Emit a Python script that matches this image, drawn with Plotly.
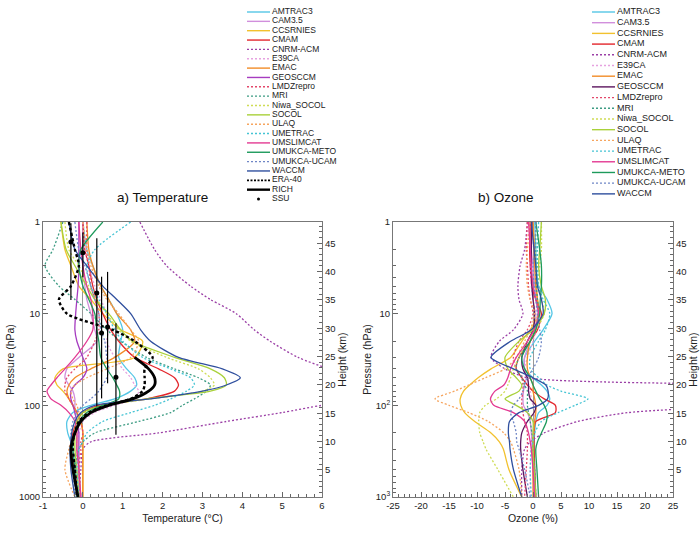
"""Temperature and ozone profile differences: models vs observations.

Two panels (a: temperature, b: ozone) on a log pressure axis with a
height axis on the right, each with its own compact legend on top.
"""
from typing import List, Optional
import plotly.graph_objects as go

# Pressure levels (hPa) on which every profile is given
PRESSURE = [1, 2, 3, 5, 7, 10, 15, 20, 30, 40, 50, 60, 70, 85, 100, 120, 150, 200,
            250, 300, 500, 1000]

MODELS = ['AMTRAC3', 'CAM3.5', 'CCSRNIES', 'CMAM', 'CNRM-ACM', 'E39CA', 'EMAC', 'GEOSCCM',
          'LMDZrepro', 'MRI', 'Niwa_SOCOL', 'SOCOL', 'ULAQ', 'UMETRAC', 'UMSLIMCAT',
          'UMUKCA-METO', 'UMUKCA-UCAM', 'WACCM']
DOTTED = ['CNRM-ACM', 'E39CA', 'LMDZrepro', 'MRI', 'Niwa_SOCOL', 'ULAQ', 'UMETRAC',
          'UMUKCA-UCAM']

COLORS_A = ['#55c6e6', '#d18fdc', '#f2c12e', '#e3262c', '#9b3fa6', '#e6a2e0', '#f28c28',
            '#a63cc0', '#e3486a', '#3d9c83', '#cfdc55', '#a9d13a', '#f6a55f', '#45c4d4',
            '#e33a93', '#1d9a5b', '#6f86c6', '#2f4f9e']
COLORS_B = ['#55c6e6', '#d18fdc', '#f2c12e', '#e3262c', '#9b3fa6', '#e6a2e0', '#f28c28',
            '#5c165e', '#e3486a', '#3d9c83', '#cfdc55', '#a9d13a', '#f6a55f', '#45c4d4',
            '#e33a93', '#1d9a5b', '#6f86c6', '#2f4f9e']

# a) Temperature difference (deg C) per model, one value per PRESSURE level
TEMP = {
    'AMTRAC3': [0.0, 0.1, 0.25, 0.45, 0.65, 0.85, 1.0, 0.95, 0.9, 1.1, 1.3, 1.35, 1.2, 0.8,
                0.2, -0.25, -0.4, -0.38, -0.3, -0.25, -0.2, -0.15],
    'CAM3.5': [0.0, 0.0, 0.0, 0.05, 0.1, 0.2, 0.3, 0.35, -0.1, -0.4, -0.45, -0.35, -0.25,
               -0.2, -0.2, -0.2, -0.15, -0.15, -0.15, -0.15, -0.1, -0.1],
    'CCSRNIES': [-0.55, -0.45, -0.3, -0.1, 0.2, 0.5, 0.95, 1.5, 1.3, -0.5, -0.7, -0.65,
                 -0.5, -0.35, -0.25, -0.15, -0.05, 0.0, 0.0, 0.0, 0.0, 0.0],
    'CMAM': [0.0, 0.05, 0.15, 0.25, 0.35, 0.5, 0.7, 0.9, 1.3, 1.9, 2.3, 2.4, 2.3, 1.6, 0.4,
             0.0, -0.15, -0.25, -0.3, -0.3, -0.2, -0.1],
    'CNRM-ACM': [1.43, 1.8, 2.1, 2.7, 3.2, 3.85, 4.3, 4.7, 5.4, 6.2, 7.5, 8.5, 8.5, 7.5, 6.0,
                 5.0, 3.6, 1.9, 0.2, 0.0, -0.05, -0.1],
    'E39CA': [0.0, 0.05, 0.15, 0.3, 0.45, 0.6, 0.65, 0.6, 0.8, 1.0, 1.2, 1.3, 1.4, 1.3, 0.8,
              0.3, 0.0, -0.1, -0.15, -0.15, -0.15, -0.1],
    'EMAC': [0.1, 0.15, 0.25, 0.45, 0.65, 0.85, 1.2, 1.3, 0.8, 0.2, -0.2, -0.35, -0.4,
             -0.35, -0.25, -0.15, -0.05, 0.0, 0.0, 0.0, 0.0, 0.0],
    'GEOSCCM': [-0.1, -0.1, -0.1, -0.12, -0.15, -0.18, -0.2, -0.15, 0.0, 0.1, 0.0, -0.2,
                -0.3, -0.3, -0.25, -0.2, -0.15, -0.1, -0.1, -0.1, -0.1, -0.05],
    'LMDZrepro': [0.1, 0.1, 0.15, 0.2, 0.3, 0.4, 0.4, 0.3, 0.1, -0.2, -0.4, -0.45, -0.45,
                  -0.35, -0.25, -0.15, -0.05, 0.0, -0.05, -0.05, -0.1, -0.05],
    'MRI': [-0.5, -0.75, -0.95, -0.6, -0.2, 0.2, 0.6, 0.95, 1.6, 2.3, 2.9, 3.2, 3.1, 2.8, 2.5,
            2.2, 1.4, 0.3, 0.0, -0.1, -0.2, -0.15],
    'Niwa_SOCOL': [-0.45, -0.35, -0.1, 0.15, 0.35, 0.6, 0.9, 1.2, 2.1, 2.9, 3.2, 3.3, 3.0,
                   1.7, 0.6, 0.05, -0.1, -0.15, -0.15, -0.15, -0.1, -0.05],
    'SOCOL': [-0.55, -0.42, -0.2, 0.1, 0.3, 0.65, 0.95, 1.25, 2.3, 3.2, 3.55, 3.6, 3.2, 1.6,
              0.5, 0.0, -0.15, -0.2, -0.2, -0.2, -0.15, -0.1],
    'ULAQ': [0.0, 0.1, 0.2, 0.4, 0.6, 0.9, 1.2, 1.4, 1.2, 0.6, 0.1, -0.2, -0.3, -0.25, -0.15,
             -0.1, -0.1, -0.2, -0.3, -0.35, -0.45, -0.2],
    'UMETRAC': [1.2, 0.3, 0.1, 0.2, 0.4, 0.6, 0.8, 1.0, 1.5, 2.2, 2.7, 2.8, 2.6, 2.2, 1.8,
                1.2, 0.5, 0.1, 0.0, -0.1, -0.15, -0.1],
    'UMSLIMCAT': [-0.1, -0.05, 0.0, 0.1, 0.2, 0.25, 0.25, 0.1, -0.2, -0.45, -0.65, -0.8, -0.9,
                  -0.8, -0.55, -0.35, -0.2, -0.15, -0.15, -0.15, -0.1, -0.05],
    'UMUKCA-METO': [0.5, -0.05, -0.1, 0.0, 0.15, 0.3, 0.35, 0.4, 0.45, 0.6, 0.75, 0.85, 0.92,
                    0.9, 0.5, 0.1, -0.1, -0.2, -0.25, -0.25, -0.2, -0.15],
    'UMUKCA-UCAM': [-0.2, -0.1, 0.05, 0.2, 0.3, 0.4, 0.45, 0.55, 0.6, 0.65, 0.6, 0.5, 0.4,
                    0.2, 0.0, -0.15, -0.25, -0.3, -0.3, -0.3, -0.25, -0.2],
    'WACCM': [-0.35, -0.2, 0.1, 0.5, 0.85, 1.2, 1.45, 1.7, 2.4, 3.5, 3.95, 3.6, 3.0, 1.7, 0.3,
              -0.05, -0.2, -0.28, -0.3, -0.32, -0.3, -0.2],
}

# Observations for panel a
ERA40_T = [-0.35, -0.2, -0.1, -0.3, -0.6, -0.4, 0.75, 1.3, 1.75, 1.55, 1.55, 1.55, 1.5, 1.2,
           0.6, 0.15, -0.1, -0.2, -0.25, -0.25, -0.2, -0.15]
RICH_T = [None, None, None, None, None, None, None, None, 1.3, 1.65, 1.8, 1.8, 1.65, 1.25,
          0.65, 0.2, -0.05, -0.2, -0.27, -0.3, -0.25, -0.12]
SSU_P = [1.65, 2.16, 5.95, 13.97, 16.3, 49.5]
SSU_T = [-0.3, 0.0, 0.35, 0.62, 0.47, 0.83]
SSU_P_TOP = [1.03, 1.3, 1.5, 3.5, 3.95, 12.7]
SSU_P_BOTTOM = [7.1, 4.0, 103, 57.5, 84, 210]

# b) Ozone difference (%) per model, one value per PRESSURE level
OZONE = {
    'AMTRAC3': [0.3, 0.5, 0.6, 1.0, 2.5, 3.4, 1.8, 0.3, -1.5, -1.5, 0.0, 1.5, 2.5, 3.0, 2.5,
                1.0, 0.5, 0.3, 0.2, 0.2, 0.3, 0.5],
    'CAM3.5': [-0.5, -0.3, 0.0, 0.3, 0.6, 0.8, 0.2, -0.5, -1.5, -1.5, -1.2, -1.5, -1.7, -1.8,
               -1.7, -1.0, -0.5, -0.3, -0.2, -0.2, 0.0, 0.2],
    'CCSRNIES': [0.0, 0.3, 0.5, 0.6, 0.8, 1.0, -0.5, -2.0, -4.0, -7.5, -9.8, -11.3, -12.4,
                 -13.0, -12.9, -12.2, -10.4, -7.5, -6.0, -5.3, -4.3, -2.0],
    'CMAM': [-0.5, -0.6, -0.5, -0.2, 0.5, 1.5, 0.8, -0.5, -2.5, -3.0, -2.0, -1.0, 0.0, 2.0,
             4.0, 4.0, 0.5, 0.2, 0.2, 0.2, 0.3, 0.5],
    'CNRM-ACM': [-1.0, -1.5, -2.3, -2.7, -2.5, -1.8, -3.5, -6.0, -7.5, -5.0, -1.0, 40, 60, 60,
                 40, 17, 8.0, 2.0, -0.5, -1.5, -2.0, -2.0],
    'E39CA': [0.0, -0.3, -0.5, -0.3, 0.0, 0.5, 0.5, 0.0, -1.0, -1.5, -1.0, -0.8, -0.5, -0.3,
              0.0, 0.3, 0.2, 0.0, -0.2, -0.3, -0.5, -0.5],
    'EMAC': [0.0, 0.2, 0.3, 0.5, 0.8, 1.0, 0.5, -0.5, -1.0, -1.0, -0.5, 0.0, 0.0, 0.3, 0.5,
             0.5, 0.3, 0.1, 0.0, 0.0, 0.0, 0.0],
    'GEOSCCM': [-0.2, -0.3, -0.3, -0.2, 0.0, 0.3, 0.0, -1.0, -2.0, -1.8, -1.0, -0.8, -0.8,
                -0.5, 0.5, 0.2, -1.0, -2.0, -2.2, -2.2, -1.8, -1.0],
    'LMDZrepro': [-1.0, -1.2, -1.0, -0.8, -0.5, 0.0, -1.0, -2.5, -3.5, -3.0, -2.0, -1.8, -1.8,
                  -2.0, -2.0, -1.8, -1.5, -1.0, -1.0, -1.0, -1.2, -1.5],
    'MRI': [0.5, 0.5, 0.5, 0.6, 0.8, 1.0, 0.3, -0.5, -2.5, -3.0, -2.0, -1.5, -1.0, -1.0, -1.0,
            -0.8, -0.5, -0.2, 0.0, 0.0, 0.3, 0.5],
    'Niwa_SOCOL': [1.5, 1.5, 1.2, 1.0, 1.5, 2.0, 0.5, -1.0, -2.5, -3.5, -4.0, -4.5, -5.0, -6.5,
                   -8.5, -9.5, -9.7, -9.5, -8.9, -8.4, -6.3, -3.5],
    'SOCOL': [1.5, 1.2, 1.0, 1.5, 2.2, 2.0, 0.0, -2.5, -5.0, -4.5, -3.0, -2.0, -2.5, -5.0,
              -3.0, -1.0, 0.0, 0.0, 0.0, 0.0, 0.2, 0.5],
    'ULAQ': [-0.5, -1.0, -1.2, -1.0, -0.5, 0.3, -0.5, -1.5, -3.0, -5.0, -8.5, -11.5, -14.0,
             -17.5, -15.0, -11.5, -8.0, -5.2, -4.0, -3.5, -2.5, -2.0],
    'UMETRAC': [1.0, 0.8, 0.8, 1.0, 1.8, 3.0, 2.2, 1.0, -0.5, -0.5, 1.0, 2.5, 5.0, 9.8, 7.5,
                4.5, 1.5, 0.3, 0.0, -0.3, -0.5, -0.3],
    'UMSLIMCAT': [-0.8, -0.5, -0.3, 0.0, 0.5, 1.0, 0.2, -1.0, -3.0, -4.0, -4.5, -5.2, -6.8,
                  -7.6, -7.0, -3.5, -1.5, -0.8, -0.5, -0.3, 0.0, 0.3],
    'UMUKCA-METO': [0.5, 1.2, 1.5, 1.5, 1.3, 1.2, 0.5, -0.5, -2.0, -1.5, -0.5, 0.0, 0.5, 1.2,
                    2.0, 2.5, 2.4, 1.5, 0.8, 0.5, 0.7, 1.0],
    'UMUKCA-UCAM': [0.5, 0.3, 0.0, 0.2, 0.5, 0.8, 1.2, 1.5, 1.0, 0.0, -1.0, -1.5, -1.8, -2.5,
                    -3.5, -4.0, -3.5, -3.0, -2.9, -2.5, -1.5, -0.5],
    'WACCM': [-0.3, 0.2, 0.5, 0.8, 1.5, 1.8, -0.3, -4.0, -7.5, -3.5, 0.0, 2.3, 2.7, 2.6, 1.0,
              -2.5, -4.2, -4.4, -4.2, -4.1, -3.5, -2.0],
}

# Axis ticks
TEMP_TICKS = [-1, 0, 1, 2, 3, 4, 5, 6]
OZONE_TICKS = [-25, -20, -15, -10, -5, 0, 5, 10, 15, 20, 25]
HEIGHT_RANGE = [0.23, 48.76]
HEIGHT_TICKS = [5, 10, 15, 20, 25, 30, 35, 40, 45]

# Sample-line span of the compact legends, in legend-axis pixels
LEGEND_SAMPLE_X = [2, 25]
LEGEND_TEXT_X = 27

FONT = 'Liberation Sans, Arial, sans-serif'
DOT_DASH = '2px,2px'
AXIS_GREY = '#777'
TICK_FONT = dict(size=9.5, color='#222')


def line_style(name: str, color: str, width: float = 1.3) -> dict:
    """Return the line dict for a model profile."""
    return dict(color=color, width=width,
                dash=DOT_DASH if name in DOTTED else 'solid',
                shape='spline', smoothing=0.7)


def add_profiles(fig: go.Figure, values: dict, colors: List[str], xaxis: str,
                 yaxis: str) -> None:
    """Add one spline profile per model to the given subplot."""
    for name, color in zip(MODELS, colors):
        fig.add_trace(go.Scatter(x=values[name], y=PRESSURE, mode='lines', name=name,
                                 line=line_style(name, color), xaxis=xaxis, yaxis=yaxis,
                                 showlegend=False))


def add_legend(fig: go.Figure, names: List[str], styles: List[dict],
               markers: List[Optional[dict]], xaxis: str, yaxis: str,
               font_size: float) -> None:
    """Draw a compact legend (one row per entry) on its own hidden axes."""
    for i, (style, marker) in enumerate(zip(styles, markers)):
        if marker is None:
            fig.add_trace(go.Scatter(x=LEGEND_SAMPLE_X, y=[-i, -i], mode='lines', line=style,
                                     xaxis=xaxis, yaxis=yaxis, showlegend=False,
                                     hoverinfo='skip'))
        else:
            fig.add_trace(go.Scatter(x=[sum(LEGEND_SAMPLE_X) / 2], y=[-i], mode='markers',
                                     marker=marker, xaxis=xaxis, yaxis=yaxis,
                                     showlegend=False, hoverinfo='skip'))
    fig.add_trace(go.Scatter(x=[LEGEND_TEXT_X] * len(names), y=[-i for i in range(len(names))],
                             text=names, mode='text', textposition='middle right',
                             textfont=dict(size=font_size, color='#222', family=FONT),
                             cliponaxis=False, xaxis=xaxis, yaxis=yaxis, showlegend=False,
                             hoverinfo='skip'))


def pressure_axis(domain_x_anchor: str, ticktext: List[str]) -> dict:
    """Return layout for a log pressure axis (1000 hPa at the bottom)."""
    return dict(type='log', range=[3, 0], anchor=domain_x_anchor, domain=[0, 275 / 497],
                tickmode='array', tickvals=[1, 10, 100, 1000], ticktext=ticktext,
                ticks='inside', ticklen=5, tickcolor='#666',
                minor=dict(tickmode='array', ticks='inside', ticklen=3, tickcolor='#666',
                           tickvals=[m * 10 ** k for k in range(3) for m in range(2, 10)]),
                showline=True, linecolor=AXIS_GREY, linewidth=1, showgrid=False,
                zeroline=False, automargin=False,
                title=dict(text='Pressure (hPa)', font=dict(size=10.5), standoff=2),
                tickfont=TICK_FONT)


def height_axis(overlay: str, anchor: str) -> dict:
    """Return layout for the height (km) axis on the right of a panel."""
    return dict(overlaying=overlay, side='right', anchor=anchor, range=HEIGHT_RANGE,
                tickmode='array', tickvals=HEIGHT_TICKS, ticks='inside', ticklen=5,
                tickcolor='#666',
                minor=dict(dtick=1, ticks='inside', ticklen=3, tickcolor='#666'),
                showline=True, linecolor=AXIS_GREY, linewidth=1, showgrid=False,
                zeroline=False, automargin=False,
                title=dict(text='Height (km)', font=dict(size=10.5), standoff=4),
                tickfont=TICK_FONT)


def value_axis(domain: List[float], anchor: str, rng: List[float], tickvals: List[int],
               minor_dtick: float, title: str) -> dict:
    """Return layout for a horizontal value axis with a zero line."""
    return dict(domain=domain, anchor=anchor, range=rng, tickmode='array',
                tickvals=tickvals, ticktext=[str(v) for v in tickvals], ticks='inside',
                ticklen=5, tickcolor='#666',
                minor=dict(tickmode='linear', tick0=0, dtick=minor_dtick, ticks='inside',
                           ticklen=3, tickcolor='#666'),
                showline=True, mirror=True, linecolor=AXIS_GREY, linewidth=1,
                showgrid=False, automargin=False,
                zeroline=True, zerolinecolor='#999', zerolinewidth=1,
                title=dict(text=title, font=dict(size=10.5), standoff=4),
                tickfont=TICK_FONT)


def hidden_axis(domain: List[float], anchor: str, rng: List[float]) -> dict:
    """Return layout for an invisible axis hosting a legend."""
    return dict(domain=domain, anchor=anchor, range=rng, visible=False, fixedrange=True)


def build_figure() -> go.Figure:
    """Build the two-panel figure."""
    fig = go.Figure()

    # Panel a: models, then ERA-40, RICH and SSU on top
    add_profiles(fig, TEMP, COLORS_A, 'x', 'y')
    fig.add_trace(go.Scatter(x=ERA40_T, y=PRESSURE, mode='lines', name='ERA-40',
                             line=dict(color='black', width=2.4, dash='3px,2.5px',
                                       shape='spline', smoothing=0.7),
                             showlegend=False))
    fig.add_trace(go.Scatter(x=RICH_T, y=PRESSURE, mode='lines', name='RICH',
                             line=dict(color='black', width=2.8, shape='spline',
                                       smoothing=0.7), showlegend=False))
    fig.add_trace(go.Scatter(
        x=SSU_T, y=SSU_P, mode='markers', name='SSU',
        marker=dict(color='black', size=5),
        error_y=dict(type='data', symmetric=False,
                     array=[b - p for b, p in zip(SSU_P_BOTTOM, SSU_P)],
                     arrayminus=[p - t for p, t in zip(SSU_P, SSU_P_TOP)],
                     color='black', thickness=1.2, width=0),
        showlegend=False))

    # Panel b: models only
    add_profiles(fig, OZONE, COLORS_B, 'x2', 'y2')

    # Empty traces so the height axes get their own (overlaid) subplots
    fig.add_trace(go.Scatter(x=[], y=[], xaxis='x', yaxis='y3', showlegend=False,
                             hoverinfo='skip'))
    fig.add_trace(go.Scatter(x=[], y=[], xaxis='x2', yaxis='y4', showlegend=False,
                             hoverinfo='skip'))

    # Legend a: models + observations
    styles_a = [line_style(n, c, 1.4) for n, c in zip(MODELS, COLORS_A)]
    styles_a += [dict(color='black', width=1.8, dash='2px,1.5px'),
                 dict(color='black', width=2.4), None]
    markers_a = [None] * (len(MODELS) + 2) + [dict(color='black', size=3)]
    add_legend(fig, MODELS + ['ERA-40', 'RICH', 'SSU'], styles_a, markers_a, 'x5', 'y5', 8.5)

    # Legend b: models
    styles_b = [line_style(n, c, 1.4) for n, c in zip(MODELS, COLORS_B)]
    add_legend(fig, MODELS, styles_b, [None] * len(MODELS), 'x6', 'y6', 9)

    plot_w = 657
    fig.update_layout(
        width=700, height=534,
        margin=dict(l=43, r=0, t=0, b=37),
        paper_bgcolor='white', plot_bgcolor='white',
        font=dict(family=FONT, color='#222'),
        showlegend=False,
        xaxis=value_axis([0, 279 / plot_w], 'y', [-1, 6], TEMP_TICKS, 0.2,
                         'Temperature (°C)'),
        yaxis=pressure_axis('x', ['1', '10', '100', '1000']),
        yaxis3=height_axis('y', 'x'),
        xaxis2=value_axis([350 / plot_w, 630 / plot_w], 'y2', [-25, 25], OZONE_TICKS, 1,
                          'Ozone (%)'),
        yaxis2=pressure_axis('x2', ['1', '10', '10<sup>2</sup>', '10<sup>3</sup>']),
        yaxis4=height_axis('y2', 'x2'),
        xaxis5=hidden_axis([202 / plot_w, 302 / plot_w], 'y5', [0, 100]),
        yaxis5=hidden_axis([292 / 497, 492 / 497], 'x5', [-20.64, 0.749]),
        xaxis6=hidden_axis([547 / plot_w, 1.0], 'y6', [0, 110]),
        yaxis6=hidden_axis([292 / 497, 492 / 497], 'x6', [-18.04, 0.654]),
        annotations=[
            dict(text='a) Temperature', xref='x domain', yref='y domain', x=0.43, y=1.124,
                 showarrow=False, font=dict(size=13.5, color='#111')),
            dict(text='b) Ozone', xref='x2 domain', yref='y2 domain', x=0.405, y=1.124,
                 showarrow=False, font=dict(size=13.5, color='#111')),
        ],
    )
    return fig


if __name__ == '__main__':
    figure = build_figure()
    # The page's default 8px body margin would shift the 700x534 figure
    figure.write_html('out.html', config={'displayModeBar': False},
                      post_script="document.body.style.margin = '0';")
